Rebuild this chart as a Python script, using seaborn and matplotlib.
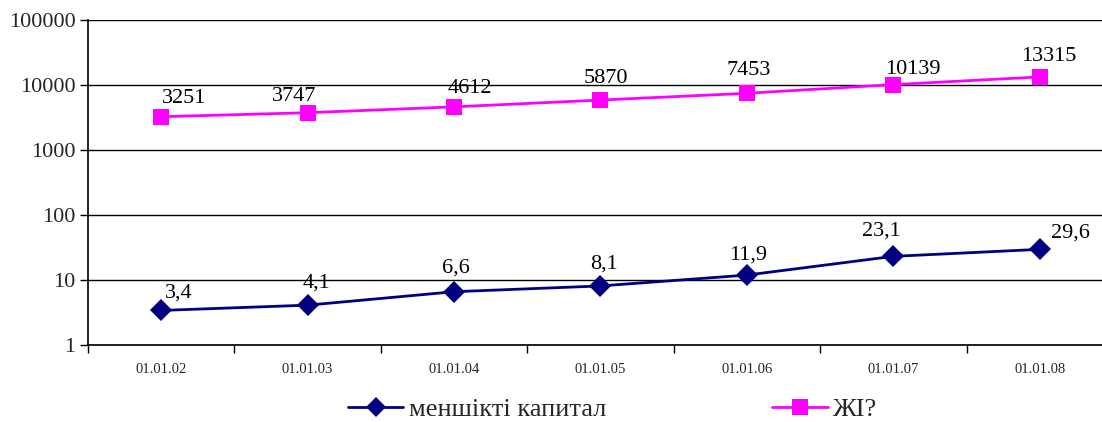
import pandas as pd
import seaborn as sns
import matplotlib.pyplot as plt
from matplotlib.ticker import FixedLocator, NullFormatter

# --- adatok ---
dates = ['01.01.02', '01.01.03', '01.01.04', '01.01.05', '01.01.06', '01.01.07', '01.01.08']
capital = [3.4, 4.1, 6.6, 8.1, 11.9, 23.1, 29.6]
zhi = [3251, 3747, 4612, 5870, 7453, 10139, 13315]
series_names = ['меншікті капитал', 'ЖІ?']
colors = ['#000080', '#FF00FF']
markers = ['D', 's']

# címkék eltolása (pixel) – az eredeti kézzel igazított feliratai szerint
capital_label_dx = [17, 9, 2, 4, 1, -12, 31]
capital_label_dy = [13, 18, 19, 17, 16, 21, 12]
zhi_label_dx = [23, -14, 16, 5, 2, 20, 9]
zhi_label_dy = [14, 12, 14, 17, 18, 11, 16]

df = pd.DataFrame({
    'pos': list(range(len(dates))) * 2,
    'value': capital + zhi,
    'series': [series_names[0]] * len(dates) + [series_names[1]] * len(dates),
})

sns.set_theme(style="white")
plt.rcParams['font.family'] = ['Liberation Serif', 'DejaVu Serif']

fig = plt.figure(figsize=(11.02, 4.22), dpi=100)
# a rajzterület jobbra kilóg a képből, mint az eredetin
ax = fig.add_axes([0.0799, 0.1825, 0.930, 0.7701])

sns.lineplot(
    data=df, x='pos', y='value', hue='series', style='series',
    palette=colors, markers=markers, dashes=False, markersize=11,
    markeredgewidth=0, linewidth=2, ax=ax, legend=False,
)

ax.set_yscale('log')
ax.set_ylim(1, 100000)
ax.set_xlim(-0.5, len(dates) - 0.5)
ax.set_yticks([1, 10, 100, 1000, 10000, 100000])
ax.set_yticklabels(['1', '10', '100', '1000', '10000', '100000'], fontsize=16)
ax.yaxis.set_minor_locator(FixedLocator([]))
ax.set_xticks(range(len(dates)))
ax.set_xticklabels(dates, fontsize=10.5)
ax.xaxis.set_minor_locator(FixedLocator([i - 0.5 for i in range(len(dates) + 1)]))
ax.xaxis.set_minor_formatter(NullFormatter())
ax.tick_params(axis='x', which='major', length=0, pad=13)
ax.tick_params(axis='x', which='minor', length=6, width=1, color='black', direction='out', bottom=True)
ax.tick_params(axis='y', which='major', length=6, width=1, color='black', direction='out', left=True, pad=3)
ax.set_xlabel('')
ax.set_ylabel('')

ax.grid(axis='y', color='black', linewidth=1)
for s in ['top', 'right']:
    ax.spines[s].set_visible(False)
for s in ['left', 'bottom']:
    ax.spines[s].set_color('black')
    ax.spines[s].set_linewidth(1.2)

# adatcímkék
for i, v in enumerate(capital):
    ax.annotate(f'{v}'.replace('.', ','), (i, v),
                xytext=(capital_label_dx[i], capital_label_dy[i]), textcoords='offset pixels',
                ha='center', va='baseline', fontsize=16, color='black')
for i, v in enumerate(zhi):
    ax.annotate(f'{v}', (i, v),
                xytext=(zhi_label_dx[i], zhi_label_dy[i]), textcoords='offset pixels',
                ha='center', va='baseline', fontsize=16, color='black')

handles = [
    plt.Line2D([], [], color=colors[0], marker=markers[0], markersize=10, linewidth=2, markeredgewidth=0),
    plt.Line2D([], [], color=colors[1], marker=markers[1], markersize=11, linewidth=2, markeredgewidth=0),
]
fig.legend(handles, series_names, loc='center', bbox_to_anchor=(0.556, 0.03), ncol=2,
           frameon=False, fontsize=19, handlelength=2.1, columnspacing=6.3, handletextpad=0.2)

plt.savefig('out.png', dpi=100)
plt.close()
